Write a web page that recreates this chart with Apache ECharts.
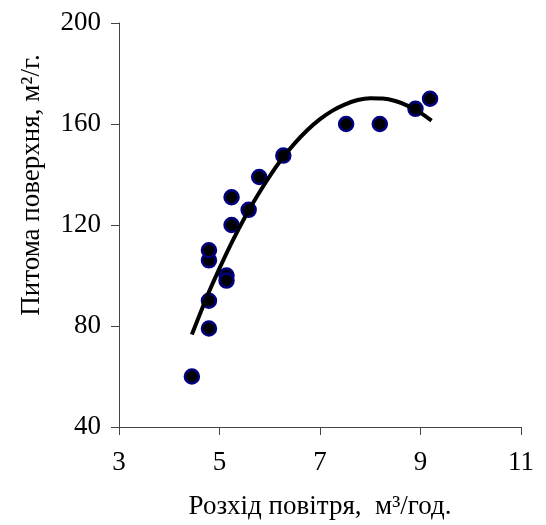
<!DOCTYPE html>
<html>
<head>
<meta charset="utf-8">
<script src="https://cdn.jsdelivr.net/npm/echarts@6/dist/echarts.min.js"></script>
<style>
  html, body { margin: 0; padding: 0; background: #fff; }
  #chart { width: 546px; height: 525px; }
</style>
</head>
<body>
<div id="chart"></div>
<script>
// measured points: air flow (m3/h) vs specific surface (m2/g)
var flowX = [4.45, 4.79, 4.79, 4.79, 4.79, 5.14, 5.14, 5.24, 5.24, 5.58, 5.79, 6.27, 7.52, 8.19, 8.90, 9.19];
var surfaceY = [60, 79, 90, 106, 110, 100, 98, 120, 131, 126, 139, 147.5, 160, 160, 166, 170];

// trend curve
var trendX = [4.45, 4.75, 5.0, 5.25, 5.5, 5.75, 6.0, 6.25, 6.5, 6.75, 7.0, 7.25, 7.5, 7.75, 8.0, 8.25, 8.5, 8.75, 9.0, 9.22];
var trendY = [76.6, 91.6, 102.8, 113.3, 122.9, 131.5, 139.4, 146.4, 152.4, 157.6, 161.9, 165.3, 167.8, 169.5, 170.2, 170.1, 169.1, 167.2, 164.4, 161.3];

var xTicks = [3, 5, 7, 9, 11];
var yTicks = [40, 80, 120, 160, 200];

var font = 'Liberation Serif';

var chart = echarts.init(document.getElementById('chart'));

var points = flowX.map(function (x, i) { return [x, surfaceY[i]]; });
var trend = trendX.map(function (x, i) { return [x, trendY[i]]; });

chart.setOption({
  backgroundColor: '#fff',
  animation: false,
  grid: { left: 119, right: 25, top: 23, bottom: 92 },
  xAxis: {
    type: 'value',
    min: xTicks[0],
    max: xTicks[xTicks.length - 1],
    interval: 2,
    name: 'Розхід повітря,  м³/год.',
    nameLocation: 'middle',
    nameGap: 66,
    nameTextStyle: { fontFamily: font, fontSize: 27, color: '#000' },
    axisLine: { lineStyle: { color: '#444', width: 1 } },
    axisTick: { show: true, length: 8, lineStyle: { color: '#444' } },
    axisLabel: { fontFamily: font, fontSize: 27, color: '#000', margin: 22 },
    splitLine: { show: false }
  },
  yAxis: {
    type: 'value',
    min: yTicks[0],
    max: yTicks[yTicks.length - 1],
    interval: 40,
    axisLine: { show: true, lineStyle: { color: '#444', width: 1 } },
    axisTick: { show: true, length: 8, lineStyle: { color: '#444' } },
    axisLabel: { fontFamily: font, fontSize: 27, color: '#000', margin: 18 },
    splitLine: { show: false }
  },
  graphic: [{
    type: 'text',
    x: 32,
    y: 185,
    rotation: Math.PI / 2,
    style: {
      text: 'Питома поверхня, м²/г.',
      font: '27px "Liberation Serif"',
      fill: '#000',
      align: 'center',
      verticalAlign: 'middle'
    }
  }],
  series: [{
    type: 'scatter',
    data: points,
    symbol: 'circle',
    symbolSize: 14,
    itemStyle: { color: '#000', borderColor: '#000080', borderWidth: 2.5, opacity: 1 },
    z: 2
  }, {
    type: 'line',
    data: trend,
    smooth: 0.3,
    showSymbol: false,
    lineStyle: { color: '#000', width: 4 },
    z: 3
  }]
});
</script>
</body>
</html>
